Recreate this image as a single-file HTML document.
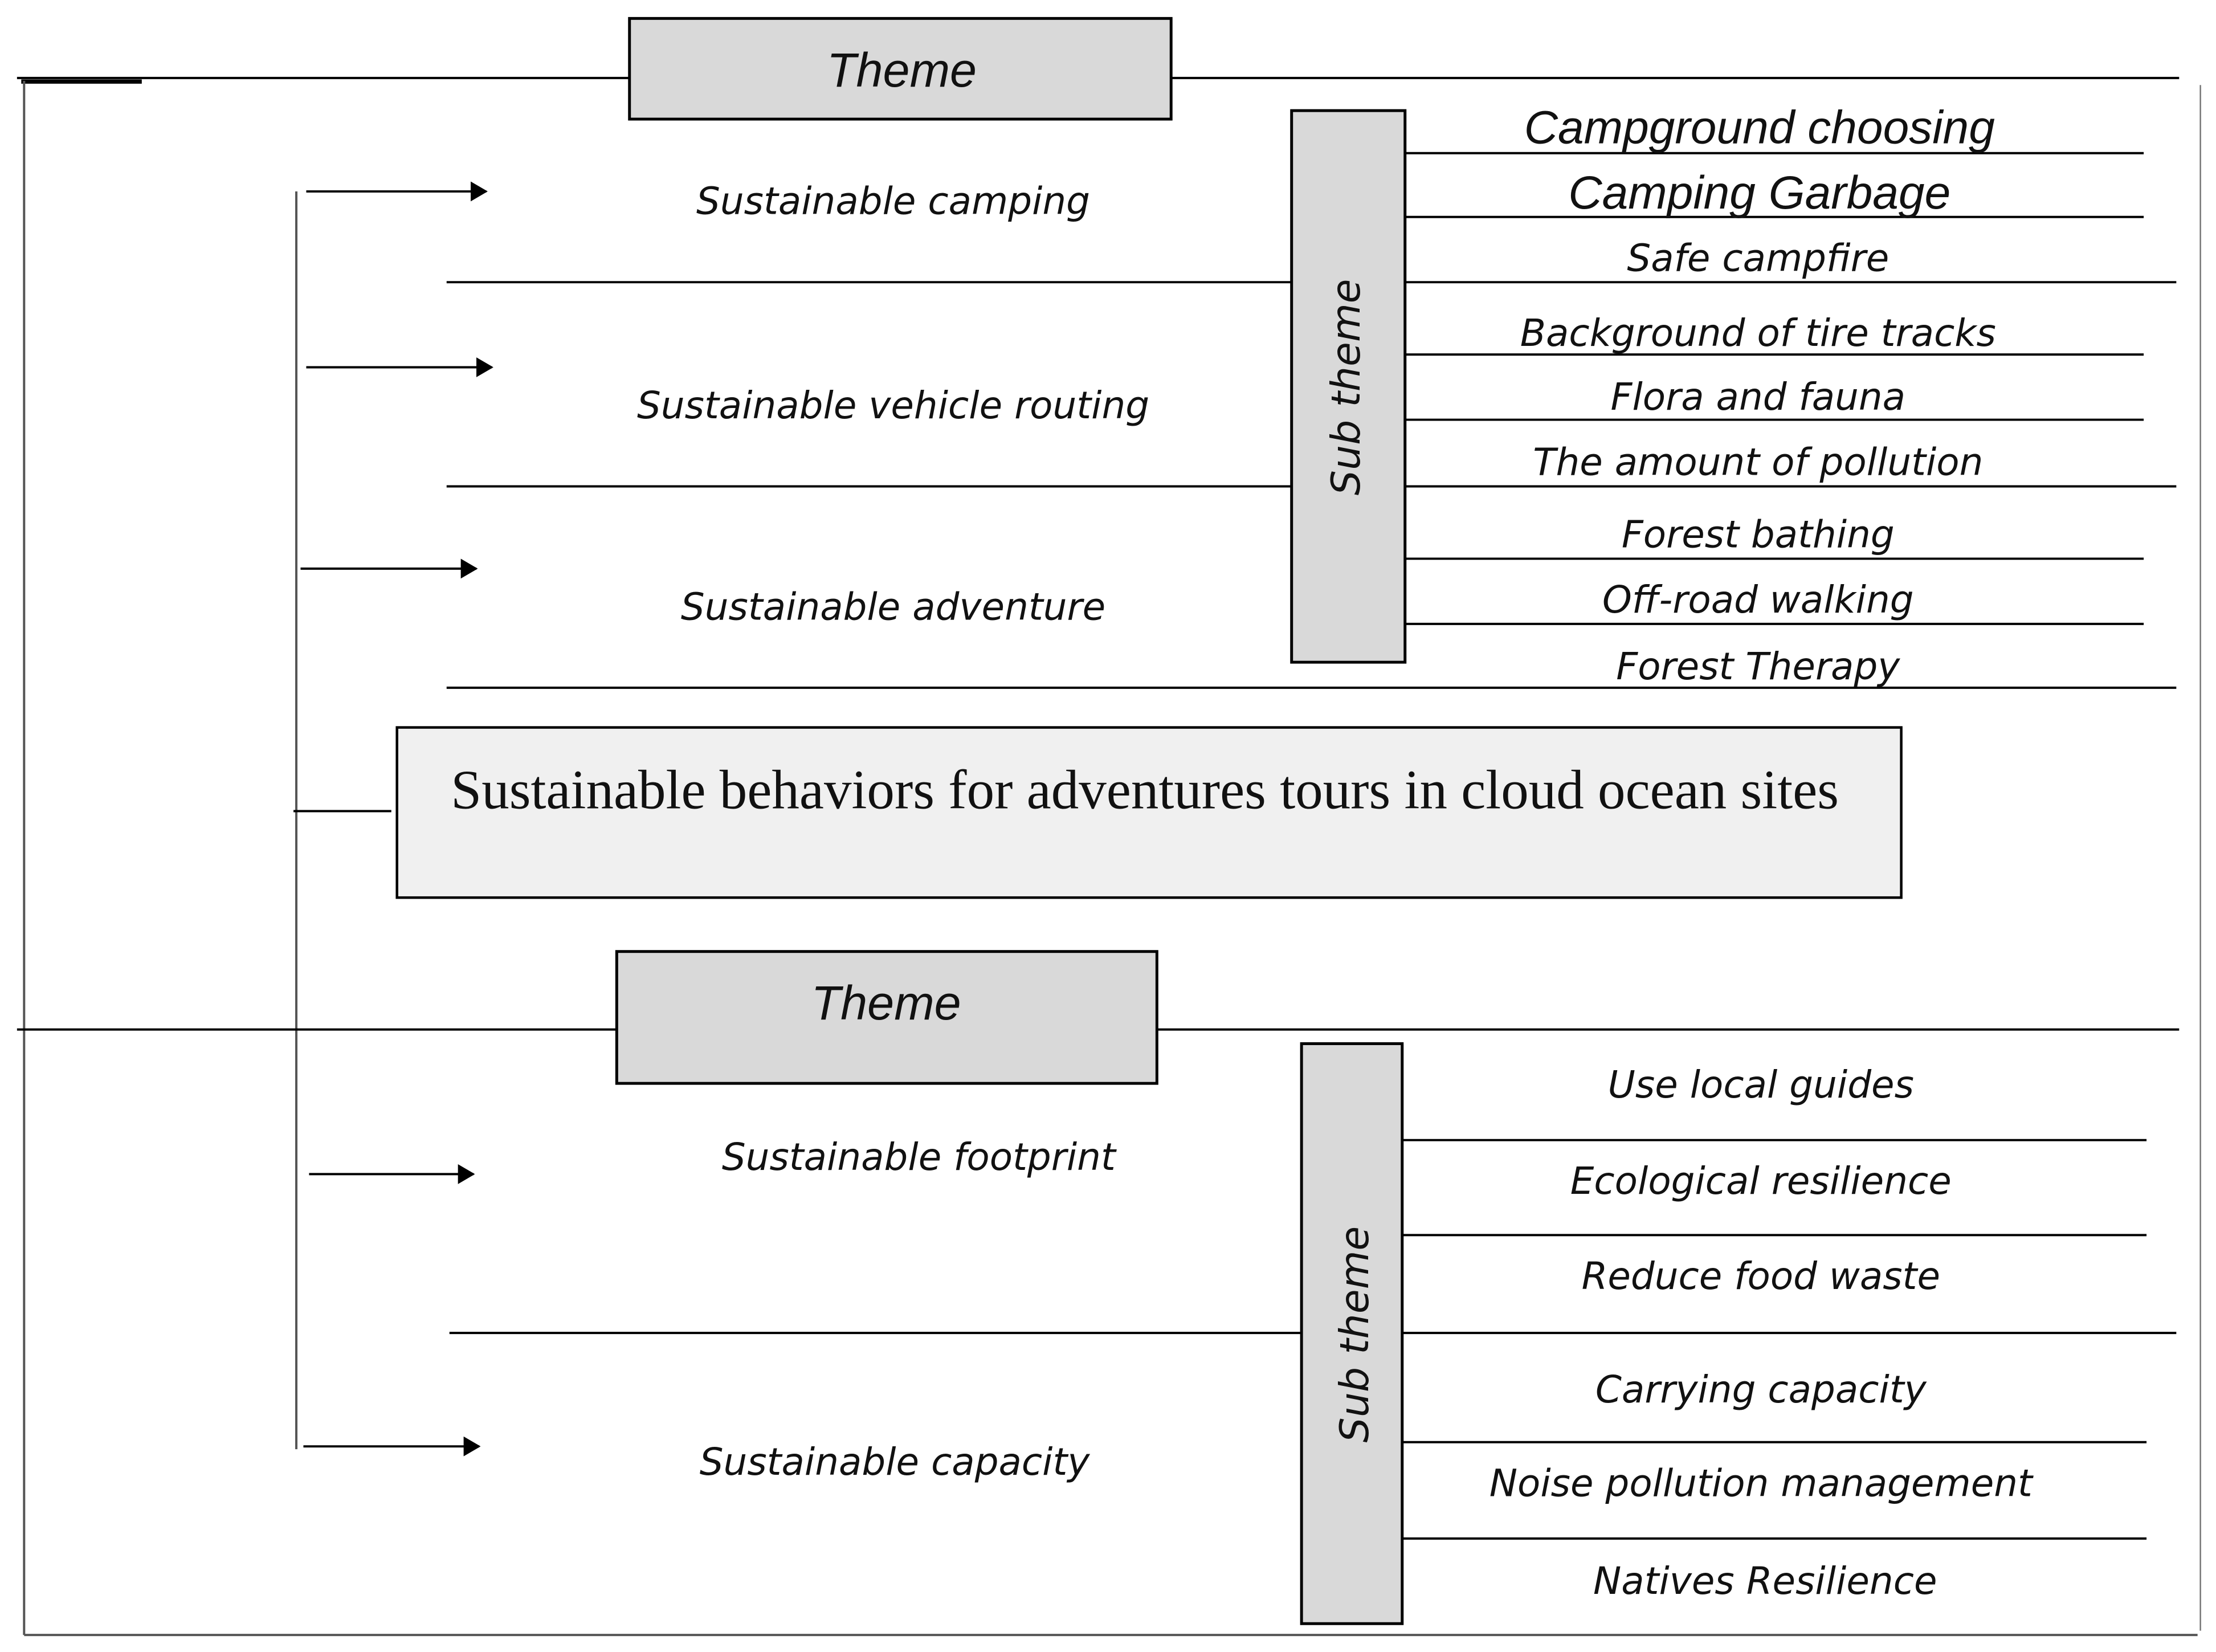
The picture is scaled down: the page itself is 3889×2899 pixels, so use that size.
<!DOCTYPE html>
<html><head><meta charset="utf-8"><style>
html,body{margin:0;padding:0;background:#fff;}
svg{display:block;}
.it{font-family:"DejaVu Sans",sans-serif;font-style:italic;fill:#111;text-anchor:middle;}
.lt{font-family:"Liberation Sans",sans-serif;font-style:italic;fill:#111;text-anchor:middle;}
</style></head><body>
<svg width="3889" height="2899" viewBox="0 0 1563 1165" preserveAspectRatio="none" xmlns="http://www.w3.org/2000/svg">
<defs><marker id="a" markerWidth="12" markerHeight="14" refX="11" refY="7" orient="auto" markerUnits="userSpaceOnUse"><path d="M0,0 L12,7 L0,14 z" fill="#000"/></marker></defs>
<g stroke="#000" stroke-width="1.6" fill="none">
<line x1="12" y1="55" x2="444" y2="55"/><line x1="826" y1="55" x2="1537" y2="55"/>
<line x1="15" y1="57.5" x2="100" y2="57.5" stroke-width="3"/>
<line x1="17" y1="57" x2="17" y2="1153" stroke="#555"/>
<line x1="17" y1="1153" x2="1550" y2="1153" stroke="#555"/>
<line x1="1552" y1="60" x2="1552" y2="1150" stroke="#777" stroke-width="1"/>
<line x1="991" y1="108" x2="1512" y2="108"/><line x1="991" y1="153" x2="1512" y2="153"/>
<line x1="315" y1="199" x2="1535" y2="199"/><line x1="991" y1="250" x2="1512" y2="250"/>
<line x1="991" y1="296" x2="1512" y2="296"/><line x1="315" y1="343" x2="1535" y2="343"/>
<line x1="991" y1="394" x2="1512" y2="394"/><line x1="991" y1="440" x2="1512" y2="440"/>
<line x1="315" y1="485" x2="1535" y2="485"/>
<line x1="209" y1="135" x2="209" y2="1022" stroke="#555"/>
<line x1="216" y1="135" x2="343" y2="135" marker-end="url(#a)"/>
<line x1="216" y1="259" x2="347" y2="259" marker-end="url(#a)"/>
<line x1="212" y1="401" x2="336" y2="401" marker-end="url(#a)"/>
<line x1="218" y1="828" x2="334" y2="828" marker-end="url(#a)"/>
<line x1="214" y1="1020" x2="338" y2="1020" marker-end="url(#a)"/>
<line x1="207" y1="572" x2="276" y2="572"/>
<line x1="12" y1="726" x2="435" y2="726"/><line x1="816" y1="726" x2="1537" y2="726"/>
<line x1="989" y1="804" x2="1514" y2="804"/><line x1="989" y1="871" x2="1514" y2="871"/>
<line x1="317" y1="940" x2="1535" y2="940"/><line x1="989" y1="1017" x2="1514" y2="1017"/>
<line x1="989" y1="1085" x2="1514" y2="1085"/>
</g>
<rect x="444" y="13" width="382" height="71" fill="#d9d9d9" stroke="#000" stroke-width="2"/>
<rect x="911" y="78" width="80" height="389" fill="#d9d9d9" stroke="#000" stroke-width="2"/>
<rect x="280" y="513" width="1061" height="120" fill="#f0f0f0" stroke="#000" stroke-width="1.8"/>
<rect x="435" y="671" width="381" height="93" fill="#d9d9d9" stroke="#000" stroke-width="2"/>
<rect x="918" y="736" width="71" height="409" fill="#d9d9d9" stroke="#000" stroke-width="2"/>
<text class="lt" x="636" y="61" font-size="34">Theme</text>
<text class="lt" x="625" y="719" font-size="34">Theme</text>
<text class="it" font-size="28" transform="translate(959,273) rotate(-90)">Sub theme</text>
<text class="it" font-size="28" transform="translate(965,941) rotate(-90)">Sub theme</text>
<text x="318" y="570" font-family="'Liberation Serif',serif" font-size="39" fill="#111">Sustainable behaviors for adventures tours in cloud ocean sites</text>
<text class="lt" x="1241" y="101" font-size="33">Campground choosing</text>
<text class="lt" x="1241" y="147" font-size="33">Camping Garbage</text>
<g class="it" font-size="26.5">
<text x="1240" y="191">Safe campfire</text>
<text x="1240" y="244">Background of tire tracks</text>
<text x="1240" y="289">Flora and fauna</text>
<text x="1240" y="335">The amount of pollution</text>
<text x="1240" y="386">Forest bathing</text>
<text x="1240" y="432">Off-road walking</text>
<text x="1240" y="479">Forest Therapy</text>
<text x="630" y="151">Sustainable camping</text>
<text x="630" y="295">Sustainable vehicle routing</text>
<text x="630" y="437">Sustainable adventure</text>
<text x="648" y="825">Sustainable footprint</text>
<text x="631" y="1040">Sustainable capacity</text>
<text x="1242" y="774">Use local guides</text>
<text x="1242" y="842">Ecological resilience</text>
<text x="1242" y="909">Reduce food waste</text>
<text x="1242" y="989">Carrying capacity</text>
<text x="1242" y="1055">Noise pollution management</text>
<text x="1245" y="1124">Natives Resilience</text>
</g>
</svg>
</body></html>
